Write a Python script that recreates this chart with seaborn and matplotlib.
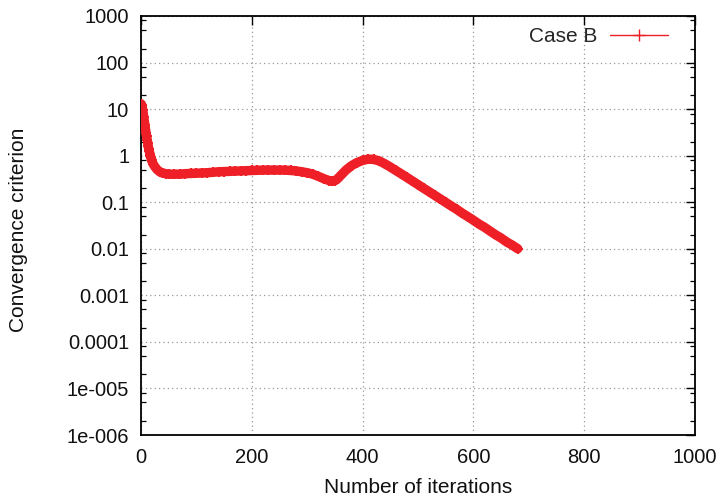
import numpy as np
import pandas as pd
import matplotlib
matplotlib.use("Agg")
import matplotlib.pyplot as plt
from matplotlib.lines import Line2D
from matplotlib.ticker import FixedLocator, NullFormatter
import seaborn as sns

# Convergence history for Case B
iterations = [0, 1, 2, 3, 4, 5, 6, 7, 8, 9, 10, 11, 12, 13, 14, 15, 16, 17, 18, 19, 20,
              22, 25, 28, 30, 35, 40, 45, 50, 60, 70, 80, 90, 100, 110, 120, 130, 140,
              150, 160, 170, 180, 190, 200, 210, 220, 230, 240, 250, 260, 270, 280,
              290, 300, 310, 320, 330, 340, 345, 350, 355, 360, 370, 380, 390, 400,
              410, 420, 430, 440, 450, 460, 470, 480, 490, 500, 510, 520, 530, 540,
              550, 560, 570, 580, 590, 600, 610, 620, 630, 640, 650, 660, 670, 680]
criterion = [13.0, 12.5, 11.0, 9.5, 8.0, 6.6, 5.5, 4.6, 3.8, 3.1, 2.6, 2.2, 1.9, 1.6, 1.4,
             1.25, 1.1, 1.0, 0.9, 0.82, 0.75,
             0.66, 0.58, 0.52, 0.49, 0.44, 0.42, 0.41, 0.40, 0.40, 0.40, 0.41, 0.415,
             0.42, 0.425, 0.43, 0.44, 0.45, 0.455, 0.46, 0.465, 0.47, 0.475, 0.48,
             0.485, 0.49, 0.49, 0.49, 0.49, 0.49, 0.48, 0.47, 0.45, 0.43, 0.40, 0.36,
             0.32, 0.29, 0.28, 0.29, 0.32, 0.37, 0.49, 0.61, 0.71, 0.79, 0.84, 0.83,
             0.77, 0.67, 0.57, 0.48, 0.405, 0.34, 0.285, 0.239, 0.20, 0.168, 0.141,
             0.118, 0.099, 0.083, 0.070, 0.058, 0.049, 0.041, 0.034, 0.029, 0.024,
             0.020, 0.017, 0.014, 0.012, 0.010]
series_label = "Case B"

x_ticks = [0, 200, 400, 600, 800, 1000]
x_tick_labels = ["0", "200", "400", "600", "800", "1000"]
y_ticks = [1e-6, 1e-5, 1e-4, 1e-3, 1e-2, 1e-1, 1, 10, 100, 1000]
y_tick_labels = ["1e-006", "1e-005", "0.0001", "0.001", "0.01", "0.1", "1", "10",
                 "100", "1000"]

df = pd.DataFrame({"iter": iterations, "crit": criterion})

sns.set_theme(style="white")
plt.rcParams["font.family"] = ["Liberation Sans", "DejaVu Sans"]

red = "#ee1f26"
fig = plt.figure(figsize=(7.22, 5.04), dpi=100)
ax = fig.add_axes([0.1953, 0.1369, 0.9626 - 0.1953, 0.9683 - 0.1369])

# dense trace: a thick band with '+' markers on every sample
sns.lineplot(data=df, x="iter", y="crit", ax=ax, color=red, lw=6.8,
             solid_capstyle="round", solid_joinstyle="round", zorder=3)
sns.lineplot(data=df, x="iter", y="crit", ax=ax, color=red, lw=1.0,
             marker="+", markersize=7.5, markeredgewidth=1.6,
             markeredgecolor=red, zorder=4)

ax.set_yscale("log")
ax.set_xlim(0, 1000)
ax.set_ylim(1e-6, 1000)

ax.set_xticks(x_ticks)
ax.set_xticklabels(x_tick_labels)
ax.set_yticks(y_ticks)
ax.set_yticklabels(y_tick_labels)
minor = [m * 10.0 ** e for e in range(-6, 3) for m in (2, 5, 8)]
ax.yaxis.set_minor_locator(FixedLocator(minor))
ax.yaxis.set_minor_formatter(NullFormatter())

ax.tick_params(axis="both", which="major", direction="in", length=6.5, width=1.0,
               color="black", labelsize=14.5, labelcolor="#111111",
               top=True, right=True)
ax.tick_params(axis="x", which="major", pad=9.5)
ax.tick_params(axis="y", which="major", pad=8.5)
ax.tick_params(axis="y", which="minor", direction="in", length=3.5, width=0.9,
               color="black", left=True, right=True)
ax.tick_params(axis="x", which="minor", bottom=False, top=False)

for s in ax.spines.values():
    s.set_color("black")
    s.set_linewidth(1.3)

ax.grid(True, which="major", color="#999999", linestyle=(0, (1, 2.5)), lw=0.9)
ax.set_axisbelow(True)

ax.set_xlabel("Number of iterations", fontsize=15, color="#111111")
ax.set_ylabel("Convergence criterion", fontsize=15, color="#111111")
ax.xaxis.set_label_coords(0.5, -0.103)
ax.yaxis.set_label_coords(-0.204, 0.49)

handle = Line2D([], [], color=red, lw=1.0, marker="+", markersize=9,
                markeredgewidth=1.0)
ax.legend([handle], [series_label], loc="upper right", frameon=False,
          markerfirst=False, fontsize=15, handlelength=2.8, handletextpad=0.6,
          borderaxespad=0.4, bbox_to_anchor=(0.982, 1.013))

fig.savefig("out.png", dpi=100)
